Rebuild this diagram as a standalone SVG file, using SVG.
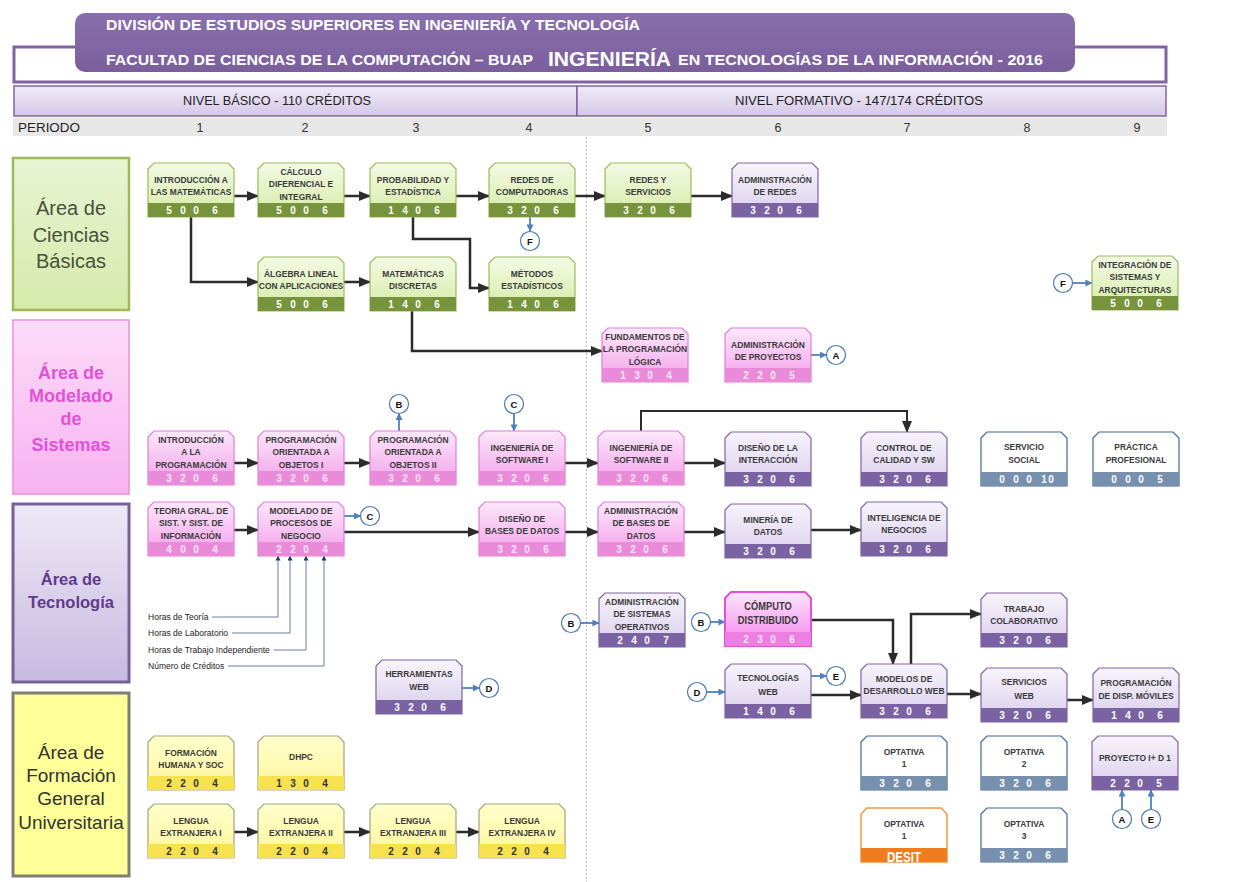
<svg xmlns="http://www.w3.org/2000/svg" xmlns:xlink="http://www.w3.org/1999/xlink" width="1245" height="882" viewBox="0 0 1245 882">
<style>
.t{font-family:"Liberation Sans",Arial,sans-serif;font-weight:bold;font-size:9.8px;fill:#3a3a3a;text-anchor:middle;transform-box:fill-box;transform-origin:center;transform:scaleX(.86)}
.d{font-family:"Liberation Sans",Arial,sans-serif;font-weight:bold;font-size:10px;fill:#fff;text-anchor:middle}
.dk{fill:#fde6f9}.dy{fill:#333}
.gb{fill:url(#gG);stroke:#9bbb59;stroke-width:1.2}.gs{fill:#77933c}
.pb{fill:url(#gP);stroke:#8064a2;stroke-width:1.2}.ps{fill:#7b63a3}
.kb{fill:url(#gK);stroke:#e27edb;stroke-width:1.2}.ks{fill:#e98bd9}
.kb2{fill:url(#gK2);stroke:#e650d8;stroke-width:2}.ks2{fill:#ee7ee2}
.bb{fill:#fff;stroke:#3f6593;stroke-width:1.2}.bs{fill:#7690ad}
.yb{fill:url(#gY);stroke:#a3a37a;stroke-width:1.2}.ys{fill:#f6e24f}
.ob{fill:#fff;stroke:#f79646;stroke-width:1.5}.os{fill:#f07c20}
.c{stroke:#2b2b2b;stroke-width:2.5;fill:none;marker-end:url(#ah)}
.cb{stroke:#4f81bd;stroke-width:1.8;fill:none;marker-end:url(#ahb)}
.cl{stroke:#6d7fa3;stroke-width:1;fill:none;marker-end:url(#ahl)}
.circ{fill:#fff;stroke:#4a78b3;stroke-width:1.2}
.cl-t{font-family:"Liberation Sans",Arial,sans-serif;font-weight:bold;font-size:9.5px;fill:#111;text-anchor:middle}
.lg{font-family:"Liberation Sans",Arial,sans-serif;font-size:9.5px;fill:#222;transform-box:fill-box;transform-origin:left center;transform:scaleX(.9)}
.hd{font-family:"Liberation Sans",Arial,sans-serif;font-weight:bold;fill:#fff}
.nv{font-family:"Liberation Sans",Arial,sans-serif;font-size:12.5px;fill:#222}
.per{font-family:"Liberation Sans",Arial,sans-serif;font-size:12.5px;fill:#333;text-anchor:middle}
.ar{font-family:"Liberation Sans",Arial,sans-serif;text-anchor:middle}
</style>
<defs>
<linearGradient id="gG" x1="0" y1="0" x2="0" y2="1"><stop offset="0" stop-color="#f4fae6"/><stop offset="1" stop-color="#d4eaa4"/></linearGradient>
<linearGradient id="gP" x1="0" y1="0" x2="0" y2="1"><stop offset="0" stop-color="#f7f4fb"/><stop offset="1" stop-color="#d9cdec"/></linearGradient>
<linearGradient id="gK" x1="0" y1="0" x2="0" y2="1"><stop offset="0" stop-color="#fce8fa"/><stop offset="1" stop-color="#f29eea"/></linearGradient>
<linearGradient id="gK2" x1="0" y1="0" x2="0" y2="1"><stop offset="0" stop-color="#fde6fb"/><stop offset="1" stop-color="#f383ea"/></linearGradient>
<linearGradient id="gY" x1="0" y1="0" x2="0" y2="1"><stop offset="0" stop-color="#ffffcc"/><stop offset="1" stop-color="#fff59c"/></linearGradient>
<linearGradient id="aG" x1="0" y1="0" x2="0" y2="1"><stop offset="0" stop-color="#e8f4d4"/><stop offset="1" stop-color="#d6eaaa"/></linearGradient>
<linearGradient id="aK" x1="0" y1="0" x2="0" y2="1"><stop offset="0" stop-color="#fcdcf9"/><stop offset="1" stop-color="#f8b2f0"/></linearGradient>
<linearGradient id="aP" x1="0" y1="0" x2="0" y2="1"><stop offset="0" stop-color="#eee8f6"/><stop offset="1" stop-color="#c8b9e0"/></linearGradient>
<linearGradient id="nv" x1="0" y1="0" x2="0" y2="1"><stop offset="0" stop-color="#f0ebf7"/><stop offset="1" stop-color="#d4c7e8"/></linearGradient>
<linearGradient id="hdG" x1="0" y1="0" x2="0" y2="1"><stop offset="0" stop-color="#8a6fae"/><stop offset="1" stop-color="#7b5f9d"/></linearGradient>
<path id="sh" d="M0,6L6,0H80L86,6V54H0Z"/>
<marker id="ah" viewBox="0 0 12 10" refX="11" refY="5" markerWidth="12" markerHeight="10" markerUnits="userSpaceOnUse" orient="auto"><path d="M0,0L12,5L0,10z" fill="#2b2b2b"/></marker>
<marker id="ahb" viewBox="0 0 8 8" refX="7.5" refY="4" markerWidth="7" markerHeight="7" markerUnits="userSpaceOnUse" orient="auto"><path d="M0,0L8,4L0,8z" fill="#4f81bd"/></marker>
<marker id="ahl" viewBox="0 0 6 6" refX="5.5" refY="3" markerWidth="5" markerHeight="5" markerUnits="userSpaceOnUse" orient="auto"><path d="M0,0L6,3L0,6z" fill="#1f3a6e"/></marker>
</defs>
<rect width="1245" height="882" fill="#fff"/>

<g id="header">
<rect x="14" y="47" width="1152" height="35" fill="#fff" stroke="#8064a2" stroke-width="3"/>
<rect x="75" y="13" width="1000" height="59" rx="10" fill="url(#hdG)"/>
<text class="hd" x="106" y="30" font-size="15" textLength="534" lengthAdjust="spacingAndGlyphs">DIVISIÓN DE ESTUDIOS SUPERIORES EN INGENIERÍA Y TECNOLOGÍA</text>
<text class="hd" x="106" y="65" font-size="15" textLength="427" lengthAdjust="spacingAndGlyphs">FACULTAD DE CIENCIAS DE LA COMPUTACIÓN  – BUAP</text>
<text class="hd" x="548" y="66" font-size="21" textLength="123" lengthAdjust="spacingAndGlyphs">INGENIERÍA</text>
<text class="hd" x="678" y="65" font-size="15" textLength="365" lengthAdjust="spacingAndGlyphs">EN TECNOLOGÍAS DE LA INFORMACIÓN - 2016</text>
</g>

<g id="niveles">
<rect x="14" y="86" width="563" height="30" fill="url(#nv)" stroke="#8064a2" stroke-width="1.5"/>
<rect x="577" y="86" width="589" height="30" fill="url(#nv)" stroke="#8064a2" stroke-width="1.5"/>
<text class="nv" x="183" y="105" textLength="188" lengthAdjust="spacingAndGlyphs">NIVEL BÁSICO - 110 CRÉDITOS</text>
<text class="nv" x="735" y="105" textLength="248" lengthAdjust="spacingAndGlyphs">NIVEL FORMATIVO - 147/174 CRÉDITOS</text>
<rect x="13" y="118" width="1154" height="18" fill="#e7e7e7"/>
<text class="nv" x="18" y="132" textLength="62" lengthAdjust="spacingAndGlyphs">PERIODO</text>
<text class="per" x="200" y="132">1</text><text class="per" x="305" y="132">2</text><text class="per" x="416" y="132">3</text><text class="per" x="529" y="132">4</text><text class="per" x="648" y="132">5</text><text class="per" x="778" y="132">6</text><text class="per" x="907" y="132">7</text><text class="per" x="1027" y="132">8</text><text class="per" x="1137" y="132">9</text>
<line x1="586.5" y1="137" x2="586.5" y2="882" stroke="#bdbdbd" stroke-width="1" stroke-dasharray="2,2"/>
</g>

<g id="areas">
<g id="area-ciencias"><rect x="13" y="158" width="116" height="152" fill="url(#aG)" stroke="#9bbb59" stroke-width="2.5"/>
<text class="ar" font-size="20" fill="#46523a"><tspan x="71" y="215">Área de</tspan><tspan x="71" y="242">Ciencias</tspan><tspan x="71" y="268">Básicas</tspan></text></g>
<g id="area-modelado"><rect x="13" y="320" width="116" height="174" fill="url(#aK)" stroke="#e88fe0" stroke-width="1.5"/>
<text class="ar" font-size="18" font-weight="bold" fill="#e352d6"><tspan x="71" y="379">Área de</tspan><tspan x="71" y="402">Modelado</tspan><tspan x="71" y="425">de</tspan><tspan x="71" y="451">Sistemas</tspan></text></g>
<g id="area-tecnologia"><rect x="13" y="504" width="116" height="178" fill="url(#aP)" stroke="#76609a" stroke-width="3"/>
<text class="ar" font-size="16.5" font-weight="bold" fill="#5e3b8c"><tspan x="71" y="585">Área de</tspan><tspan x="71" y="608">Tecnología</tspan></text></g>
<g id="area-formacion"><rect x="13" y="693" width="116" height="183" fill="#ffff99" stroke="#7f7f70" stroke-width="3"/>
<text class="ar" font-size="19" fill="#333"><tspan x="71" y="759">Área de</tspan><tspan x="71" y="782">Formación</tspan><tspan x="71" y="805">General</tspan><tspan x="71" y="829">Universitaria</tspan></text></g>
</g>

<g id="connectors">
<path class="c" d="M234,196H258"/>
<path class="c" d="M344,196H370"/>
<path class="c" d="M456,196H489"/>
<path class="c" d="M575,196H605"/>
<path class="c" d="M691,196H732"/>
<path class="c" d="M191,217V282H258"/>
<path class="c" d="M344,282H370"/>
<path class="c" d="M413,217V239H470V288H489"/>
<path class="c" d="M412,311V351H602"/>
<path class="c" d="M234,463H258"/>
<path class="c" d="M344,463H370"/>
<path class="c" d="M565,463H598"/>
<path class="c" d="M684,463H725"/>
<path class="c" d="M641,431V411H907V432" style="stroke-width:2"/>
<path class="c" d="M234,530H258"/>
<path class="c" d="M344,532H479"/>
<path class="c" d="M565,532H598"/>
<path class="c" d="M684,532H725"/>
<path class="c" d="M811,530H861"/>
<path class="c" d="M811,620H893V664"/>
<path class="c" d="M911,664V614H981"/>
<path class="c" d="M811,695H861"/>
<path class="c" d="M947,694H981"/>
<path class="c" d="M1067,700H1093"/>
<path class="c" d="M234,832H258"/>
<path class="c" d="M344,832H370"/>
<path class="c" d="M456,832H479"/>
<path class="cb" d="M530,217V231"/>
<path class="cb" d="M1072.5,283H1092"/>
<path class="cb" d="M811,355H826.5"/>
<path class="cb" d="M399,431V413.5"/>
<path class="cb" d="M514,413.5V431"/>
<path class="cb" d="M344,516H360.5"/>
<path class="cb" d="M580.5,623H599"/>
<path class="cb" d="M710.5,622H725"/>
<path class="cb" d="M462,688H479.5"/>
<path class="cb" d="M706.5,692H725"/>
<path class="cb" d="M811,676H826.5"/>
<path class="cb" d="M1122,809.5V790"/>
<path class="cb" d="M1151,809.5V790"/>
<path class="cl" d="M212,617H278V556"/>
<path class="cl" d="M232,633H290V556"/>
<path class="cl" d="M274,650H306V556"/>
<path class="cl" d="M228,666H324V556"/>
</g>

<g id="legend">
<text class="lg" x="148" y="620">Horas de Teoría</text>
<text class="lg" x="148" y="636">Horas de Laboratorio</text>
<text class="lg" x="148" y="653">Horas de Trabajo Independiente</text>
<text class="lg" x="148" y="669">Número de Créditos</text>
</g>

<g id="circles">
<g id="cF1"><circle class="circ" cx="530" cy="241" r="9.5"/><text class="cl-t" x="530" y="244.5">F</text></g>
<g id="cF2"><circle class="circ" cx="1063" cy="283" r="9.5"/><text class="cl-t" x="1063" y="286.5">F</text></g>
<g id="cA1"><circle class="circ" cx="836" cy="355" r="9.5"/><text class="cl-t" x="836" y="358.5">A</text></g>
<g id="cB1"><circle class="circ" cx="399" cy="404" r="9.5"/><text class="cl-t" x="399" y="407.5">B</text></g>
<g id="cC1"><circle class="circ" cx="514" cy="404" r="9.5"/><text class="cl-t" x="514" y="407.5">C</text></g>
<g id="cC2"><circle class="circ" cx="370" cy="516" r="9.5"/><text class="cl-t" x="370" y="519.5">C</text></g>
<g id="cB2"><circle class="circ" cx="571" cy="623" r="9.5"/><text class="cl-t" x="571" y="626.5">B</text></g>
<g id="cB3"><circle class="circ" cx="701" cy="622" r="9.5"/><text class="cl-t" x="701" y="625.5">B</text></g>
<g id="cD1"><circle class="circ" cx="489" cy="688" r="9.5"/><text class="cl-t" x="489" y="691.5">D</text></g>
<g id="cD2"><circle class="circ" cx="697" cy="692" r="9.5"/><text class="cl-t" x="697" y="695.5">D</text></g>
<g id="cE1"><circle class="circ" cx="836" cy="676" r="9.5"/><text class="cl-t" x="836" y="679.5">E</text></g>
<g id="cA2"><circle class="circ" cx="1122" cy="819" r="9.5"/><text class="cl-t" x="1122" y="822.5">A</text></g>
<g id="cE2"><circle class="circ" cx="1151" cy="819" r="9.5"/><text class="cl-t" x="1151" y="822.5">E</text></g>
</g>

<!-- green nodes -->
<g id="n-intro-mat" transform="translate(148,163)"><use href="#sh" class="gb"/><rect class="gs" x="0" y="40" width="86" height="14"/><text class="t" x="43" y="20">INTRODUCCIÓN A</text><text class="t" x="43" y="32">LAS MATEMÁTICAS</text><text class="d" x="21 35 48 67" y="51">5006</text></g>
<g id="n-calculo" transform="translate(258,163)"><use href="#sh" class="gb"/><rect class="gs" x="0" y="40" width="86" height="14"/><text class="t" x="43" y="12">CÁLCULO</text><text class="t" x="43" y="24.5">DIFERENCIAL E</text><text class="t" x="43" y="37">INTEGRAL</text><text class="d" x="21 35 48 67" y="51">5006</text></g>
<g id="n-probabilidad" transform="translate(370,163)"><use href="#sh" class="gb"/><rect class="gs" x="0" y="40" width="86" height="14"/><text class="t" x="43" y="20">PROBABILIDAD Y</text><text class="t" x="43" y="32">ESTADÍSTICA</text><text class="d" x="21 35 48 67" y="51">1406</text></g>
<g id="n-redes-comp" transform="translate(489,163)"><use href="#sh" class="gb"/><rect class="gs" x="0" y="40" width="86" height="14"/><text class="t" x="43" y="20">REDES DE</text><text class="t" x="43" y="32">COMPUTADORAS</text><text class="d" x="21 35 48 67" y="51">3206</text></g>
<g id="n-redes-serv" transform="translate(605,163)"><use href="#sh" class="gb"/><rect class="gs" x="0" y="40" width="86" height="14"/><text class="t" x="43" y="20">REDES Y</text><text class="t" x="43" y="32">SERVICIOS</text><text class="d" x="21 35 48 67" y="51">3206</text></g>
<g id="n-algebra" transform="translate(258,257)"><use href="#sh" class="gb"/><rect class="gs" x="0" y="40" width="86" height="14"/><text class="t" x="43" y="20">ÁLGEBRA LINEAL</text><text class="t" x="43" y="32">CON APLICACIONES</text><text class="d" x="21 35 48 67" y="51">5006</text></g>
<g id="n-mat-disc" transform="translate(370,257)"><use href="#sh" class="gb"/><rect class="gs" x="0" y="40" width="86" height="14"/><text class="t" x="43" y="20">MATEMÁTICAS</text><text class="t" x="43" y="32">DISCRETAS</text><text class="d" x="21 35 48 67" y="51">1406</text></g>
<g id="n-metodos" transform="translate(489,257)"><use href="#sh" class="gb"/><rect class="gs" x="0" y="40" width="86" height="14"/><text class="t" x="43" y="20">MÉTODOS</text><text class="t" x="43" y="32">ESTADÍSTICOS</text><text class="d" x="21 35 48 67" y="51">1406</text></g>
<g id="n-integracion" transform="translate(1092,256)"><use href="#sh" class="gb"/><rect class="gs" x="0" y="40" width="86" height="14"/><text class="t" x="43" y="12">INTEGRACIÓN DE</text><text class="t" x="43" y="24.5">SISTEMAS Y</text><text class="t" x="43" y="37">ARQUITECTURAS</text><text class="d" x="21 35 48 67" y="51">5006</text></g>

<!-- purple nodes -->
<g id="n-admin-redes" transform="translate(732,163)"><use href="#sh" class="pb"/><rect class="ps" x="0" y="40" width="86" height="14"/><text class="t" x="43" y="20">ADMINISTRACIÓN</text><text class="t" x="43" y="32">DE REDES</text><text class="d" x="21 35 48 67" y="51">3206</text></g>
<g id="n-diseno-inter" transform="translate(725,432)"><use href="#sh" class="pb"/><rect class="ps" x="0" y="40" width="86" height="14"/><text class="t" x="43" y="19">DISEÑO DE LA</text><text class="t" x="43" y="31">INTERACCIÓN</text><text class="d" x="21 35 48 67" y="51">3206</text></g>
<g id="n-control" transform="translate(861,432)"><use href="#sh" class="pb"/><rect class="ps" x="0" y="40" width="86" height="14"/><text class="t" x="43" y="19">CONTROL DE</text><text class="t" x="43" y="31">CALIDAD Y SW</text><text class="d" x="21 35 48 67" y="51">3206</text></g>
<g id="n-mineria" transform="translate(725,504)"><use href="#sh" class="pb"/><rect class="ps" x="0" y="40" width="86" height="14"/><text class="t" x="43" y="19">MINERÍA DE</text><text class="t" x="43" y="31">DATOS</text><text class="d" x="21 35 48 67" y="51">3206</text></g>
<g id="n-inteligencia" transform="translate(861,502)"><use href="#sh" class="pb"/><rect class="ps" x="0" y="40" width="86" height="14"/><text class="t" x="43" y="19">INTELIGENCIA DE</text><text class="t" x="43" y="31">NEGOCIOS</text><text class="d" x="21 35 48 67" y="51">3206</text></g>
<g id="n-admin-so" transform="translate(599,593)"><use href="#sh" class="pb"/><rect class="ps" x="0" y="40" width="86" height="14"/><text class="t" x="43" y="12">ADMINISTRACIÓN</text><text class="t" x="43" y="24.5">DE SISTEMAS</text><text class="t" x="43" y="37">OPERATIVOS</text><text class="d" x="21 35 48 67" y="51">2407</text></g>
<g id="n-trabajo" transform="translate(981,593)"><use href="#sh" class="pb"/><rect class="ps" x="0" y="40" width="86" height="14"/><text class="t" x="43" y="19">TRABAJO</text><text class="t" x="43" y="31">COLABORATIVO</text><text class="d" x="21 35 48 67" y="51">3206</text></g>
<g id="n-herramientas" transform="translate(376,660)"><use href="#sh" class="pb"/><rect class="ps" x="0" y="40" width="86" height="14"/><text class="t" x="43" y="17">HERRAMIENTAS</text><text class="t" x="43" y="30">WEB</text><text class="d" x="21 35 48 67" y="51">3206</text></g>
<g id="n-tec-web" transform="translate(725,664)"><use href="#sh" class="pb"/><rect class="ps" x="0" y="40" width="86" height="14"/><text class="t" x="43" y="17">TECNOLOGÍAS</text><text class="t" x="43" y="31">WEB</text><text class="d" x="21 35 48 67" y="51">1406</text></g>
<g id="n-modelos" transform="translate(861,664)"><use href="#sh" class="pb"/><rect class="ps" x="0" y="40" width="86" height="14"/><text class="t" x="43" y="18">MODELOS DE</text><text class="t" x="43" y="30">DESARROLLO WEB</text><text class="d" x="21 35 48 67" y="51">3206</text></g>
<g id="n-serv-web" transform="translate(981,668)"><use href="#sh" class="pb"/><rect class="ps" x="0" y="40" width="86" height="14"/><text class="t" x="43" y="17">SERVICIOS</text><text class="t" x="43" y="31">WEB</text><text class="d" x="21 35 48 67" y="51">3206</text></g>
<g id="n-prog-moviles" transform="translate(1093,668)"><use href="#sh" class="pb"/><rect class="ps" x="0" y="40" width="86" height="14"/><text class="t" x="43" y="18">PROGRAMACIÓN</text><text class="t" x="43" y="31">DE DISP. MÓVILES</text><text class="d" x="21 35 48 67" y="51">1406</text></g>
<g id="n-proyecto" transform="translate(1092,736)"><use href="#sh" class="pb"/><rect class="ps" x="0" y="40" width="86" height="14"/><text class="t" x="43" y="25">PROYECTO I+ D 1</text><text class="d" x="21 35 48 67" y="51">2205</text></g>

<!-- pink nodes -->
<g id="n-fundamentos" transform="translate(602,328)"><use href="#sh" class="kb"/><rect class="ks" x="0" y="40" width="86" height="14"/><text class="t" x="43" y="12">FUNDAMENTOS DE</text><text class="t" x="43" y="24.5">LA PROGRAMACIÓN</text><text class="t" x="43" y="37">LÓGICA</text><text class="d dk" x="21 35 48 67" y="51">1304</text></g>
<g id="n-admin-proy" transform="translate(725,328)"><use href="#sh" class="kb"/><rect class="ks" x="0" y="40" width="86" height="14"/><text class="t" x="43" y="20">ADMINISTRACIÓN</text><text class="t" x="43" y="32">DE PROYECTOS</text><text class="d dk" x="21 35 48 67" y="51">2205</text></g>
<g id="n-intro-prog" transform="translate(148,431)"><use href="#sh" class="kb"/><rect class="ks" x="0" y="40" width="86" height="14"/><text class="t" x="43" y="12">INTRODUCCIÓN</text><text class="t" x="43" y="24.5">A LA</text><text class="t" x="43" y="37">PROGRAMACIÓN</text><text class="d dk" x="21 35 48 67" y="51">3206</text></g>
<g id="n-poo1" transform="translate(258,431)"><use href="#sh" class="kb"/><rect class="ks" x="0" y="40" width="86" height="14"/><text class="t" x="43" y="12">PROGRAMACIÓN</text><text class="t" x="43" y="24.5">ORIENTADA A</text><text class="t" x="43" y="37">OBJETOS I</text><text class="d dk" x="21 35 48 67" y="51">3206</text></g>
<g id="n-poo2" transform="translate(370,431)"><use href="#sh" class="kb"/><rect class="ks" x="0" y="40" width="86" height="14"/><text class="t" x="43" y="12">PROGRAMACIÓN</text><text class="t" x="43" y="24.5">ORIENTADA A</text><text class="t" x="43" y="37">OBJETOS II</text><text class="d dk" x="21 35 48 67" y="51">3206</text></g>
<g id="n-ing-sw1" transform="translate(479,431)"><use href="#sh" class="kb"/><rect class="ks" x="0" y="40" width="86" height="14"/><text class="t" x="43" y="20">INGENIERÍA DE</text><text class="t" x="43" y="32">SOFTWARE I</text><text class="d dk" x="21 35 48 67" y="51">3206</text></g>
<g id="n-ing-sw2" transform="translate(598,431)"><use href="#sh" class="kb"/><rect class="ks" x="0" y="40" width="86" height="14"/><text class="t" x="43" y="20">INGENIERÍA DE</text><text class="t" x="43" y="32">SOFTWARE II</text><text class="d dk" x="21 35 48 67" y="51">3206</text></g>
<g id="n-teoria" transform="translate(148,502)"><use href="#sh" class="kb"/><rect class="ks" x="0" y="40" width="86" height="14"/><text class="t" x="43" y="12">TEORIA GRAL. DE</text><text class="t" x="43" y="24.5">SIST. Y SIST. DE</text><text class="t" x="43" y="37">INFORMACIÓN</text><text class="d dk" x="21 35 48 67" y="51">4004</text></g>
<g id="n-modelado-proc" transform="translate(258,502)"><use href="#sh" class="kb"/><rect class="ks" x="0" y="40" width="86" height="14"/><text class="t" x="43" y="12">MODELADO DE</text><text class="t" x="43" y="24.5">PROCESOS DE</text><text class="t" x="43" y="37">NEGOCIO</text><text class="d dk" x="21 35 48 67" y="51">2204</text></g>
<g id="n-diseno-bd" transform="translate(479,502)"><use href="#sh" class="kb"/><rect class="ks" x="0" y="40" width="86" height="14"/><text class="t" x="43" y="20">DISEÑO DE</text><text class="t" x="43" y="32">BASES DE DATOS</text><text class="d dk" x="21 35 48 67" y="51">3206</text></g>
<g id="n-admin-bd" transform="translate(598,502)"><use href="#sh" class="kb"/><rect class="ks" x="0" y="40" width="86" height="14"/><text class="t" x="43" y="12">ADMINISTRACIÓN</text><text class="t" x="43" y="24.5">DE BASES DE</text><text class="t" x="43" y="37">DATOS</text><text class="d dk" x="21 35 48 67" y="51">3206</text></g>
<g id="n-computo" transform="translate(725,592)"><use href="#sh" class="kb2"/><rect class="ks2" x="0" y="40" width="86" height="14"/><text class="t" x="43" y="18" style="font-size:10.8px">CÓMPUTO</text><text class="t" x="43" y="32" style="font-size:10.8px">DISTRIBUIDO</text><text class="d dk" x="21 35 48 67" y="51">2306</text></g>

<!-- blue-grey nodes -->
<g id="n-servicio-social" transform="translate(981,432)"><use href="#sh" class="bb"/><rect class="bs" x="0" y="40" width="86" height="14"/><text class="t" x="43" y="18">SERVICIO</text><text class="t" x="43" y="31">SOCIAL</text><text class="d" x="21 35 48 63 70" y="51">00010</text></g>
<g id="n-practica" transform="translate(1093,432)"><use href="#sh" class="bb"/><rect class="bs" x="0" y="40" width="86" height="14"/><text class="t" x="43" y="18">PRÁCTICA</text><text class="t" x="43" y="31">PROFESIONAL</text><text class="d" x="21 35 48 67" y="51">0005</text></g>
<g id="n-opt1" transform="translate(861,736)"><use href="#sh" class="bb"/><rect class="bs" x="0" y="40" width="86" height="14"/><text class="t" x="43" y="19">OPTATIVA</text><text class="t" x="43" y="31">1</text><text class="d" x="21 35 48 67" y="51">3206</text></g>
<g id="n-opt2" transform="translate(981,736)"><use href="#sh" class="bb"/><rect class="bs" x="0" y="40" width="86" height="14"/><text class="t" x="43" y="19">OPTATIVA</text><text class="t" x="43" y="31">2</text><text class="d" x="21 35 48 67" y="51">3206</text></g>
<g id="n-opt3" transform="translate(981,808)"><use href="#sh" class="bb"/><rect class="bs" x="0" y="40" width="86" height="14"/><text class="t" x="43" y="19">OPTATIVA</text><text class="t" x="43" y="31">3</text><text class="d" x="21 35 48 67" y="51">3206</text></g>
<g id="n-opt-desit" transform="translate(861,808)"><use href="#sh" class="ob"/><rect class="os" x="0" y="40" width="86" height="14"/><text class="t" x="43" y="19">OPTATIVA</text><text class="t" x="43" y="31">1</text><text class="d" x="43" y="53.5" style="font-size:14px" textLength="34" lengthAdjust="spacingAndGlyphs">DESIT</text></g>

<!-- yellow nodes -->
<g id="n-formacion" transform="translate(148,736)"><use href="#sh" class="yb"/><rect class="ys" x="0" y="40" width="86" height="14"/><text class="t" x="43" y="20">FORMACIÓN</text><text class="t" x="43" y="32">HUMANA Y SOC</text><text class="d dy" x="21 35 48 67" y="51">2204</text></g>
<g id="n-dhpc" transform="translate(258,736)"><use href="#sh" class="yb"/><rect class="ys" x="0" y="40" width="86" height="14"/><text class="t" x="43" y="24">DHPC</text><text class="d dy" x="21 35 48 67" y="51">1304</text></g>
<g id="n-lengua1" transform="translate(148,804)"><use href="#sh" class="yb"/><rect class="ys" x="0" y="40" width="86" height="14"/><text class="t" x="43" y="20">LENGUA</text><text class="t" x="43" y="32">EXTRANJERA I</text><text class="d dy" x="21 35 48 67" y="51">2204</text></g>
<g id="n-lengua2" transform="translate(258,804)"><use href="#sh" class="yb"/><rect class="ys" x="0" y="40" width="86" height="14"/><text class="t" x="43" y="20">LENGUA</text><text class="t" x="43" y="32">EXTRANJERA II</text><text class="d dy" x="21 35 48 67" y="51">2204</text></g>
<g id="n-lengua3" transform="translate(370,804)"><use href="#sh" class="yb"/><rect class="ys" x="0" y="40" width="86" height="14"/><text class="t" x="43" y="20">LENGUA</text><text class="t" x="43" y="32">EXTRANJERA III</text><text class="d dy" x="21 35 48 67" y="51">2204</text></g>
<g id="n-lengua4" transform="translate(479,804)"><use href="#sh" class="yb"/><rect class="ys" x="0" y="40" width="86" height="14"/><text class="t" x="43" y="20">LENGUA</text><text class="t" x="43" y="32">EXTRANJERA IV</text><text class="d dy" x="21 35 48 67" y="51">2204</text></g>
</svg>
